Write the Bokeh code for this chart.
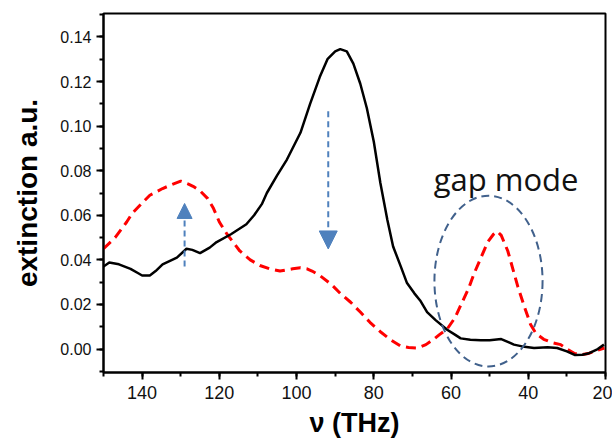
from bokeh.plotting import figure
from bokeh.models import Range1d, SingleIntervalTicker, NumeralTickFormatter, Arrow, NormalHead, Label
from bokeh.embed import file_html
from bokeh.resources import INLINE

# black solid curve
black_x = [150, 148.5, 146, 143, 141, 140, 138, 136.5, 134.7, 131, 128.5, 127, 125, 122.5, 120.7,
           117, 113, 111, 109, 107.7, 105, 102.5, 99, 96.5, 94, 92, 90, 88.7, 87, 85.3, 83.5, 81.8,
           80, 78.3, 76.5, 75, 73, 71.4, 69.5, 68, 66.2, 64, 61, 59, 57.5, 55, 52.3, 50, 47,
           45, 43.7, 41, 38.5, 35, 32.5, 30, 28, 26, 24.5, 22, 20.4]
black_y = [0.037, 0.0388, 0.038, 0.036, 0.034, 0.033, 0.033, 0.035, 0.038, 0.041, 0.045, 0.0445,
           0.043, 0.0455, 0.048, 0.0515, 0.056, 0.060, 0.065, 0.070, 0.078, 0.085, 0.097, 0.110, 0.122,
           0.130, 0.1335, 0.1345, 0.1335, 0.128, 0.119, 0.108, 0.093, 0.0745, 0.058, 0.046,
           0.037, 0.0296, 0.025, 0.0218, 0.0166, 0.013, 0.0087, 0.0065, 0.0048, 0.0042, 0.004,
           0.004, 0.0045, 0.003, 0.002, 0.001, 0.0005, 0.0008, 0.0005, -0.001, -0.0026, -0.0025,
           -0.002, 0.0, 0.002]

# red dashed curve
red_x = [150, 147, 144, 142.5, 140, 138, 134.7, 132, 130, 128, 126.8, 125, 123, 121.5, 120, 118,
         116, 114.7, 112, 109.5, 107, 104.3, 101, 99, 97.3, 96, 94, 91, 88.7, 86, 83.5, 81, 78.3,
         75.5, 73, 71, 68.7, 66.5, 64.5, 63, 61, 59, 57.5, 55.5, 54, 52, 50.5, 49, 48, 47, 45.3,
         44, 42.7, 41, 39.4, 38, 36, 34, 31.6, 30, 28, 26, 24.5, 22, 20.3]
red_y = [0.045, 0.050, 0.057, 0.061, 0.0655, 0.069, 0.072, 0.074, 0.0753, 0.074, 0.073, 0.071,
         0.0675, 0.063, 0.057, 0.0515, 0.047, 0.044, 0.040, 0.0375, 0.036, 0.035, 0.036, 0.0365,
         0.036, 0.035, 0.033, 0.029, 0.025, 0.021, 0.0166, 0.012, 0.0078, 0.004, 0.0013, 0.0007,
         0.0005, 0.002, 0.0044, 0.0065, 0.009, 0.014, 0.0196, 0.027, 0.034, 0.042, 0.048, 0.0515,
         0.0528, 0.051, 0.044, 0.036, 0.028, 0.019, 0.011, 0.007, 0.0044, 0.003, 0.002, 0.0,
         -0.002, -0.0025, -0.002, -0.0005, 0.0005]

# annotations
up_arrow = (129, 0.037, 0.0653)      # x, y_start, y_end
down_arrow = (91.8, 0.1067, 0.0449)
ellipse_center = (50.3, 0.0305)
ellipse_size = (28, 0.0766)
note_text = "gap mode"
note_pos = (64.5, 0.0765)

FONT = "Arial"

p = figure(width=612, height=440, output_backend="svg", toolbar_location=None,
           x_range=Range1d(150, 20), y_range=Range1d(-0.0105, 0.1505),
           min_border_left=103, min_border_right=7, min_border_top=13, min_border_bottom=58)

p.xgrid.visible = False
p.ygrid.visible = False
p.outline_line_color = "black"
p.outline_line_width = 2
p.background_fill_color = "white"
p.border_fill_color = "white"

p.line(red_x, red_y, line_color="#FF0000", line_width=3, line_dash="10 6")
p.line(black_x, black_y, line_color="black", line_width=2.5)

p.ellipse(x=[ellipse_center[0]], y=[ellipse_center[1]], width=[ellipse_size[0]],
          height=[ellipse_size[1]], fill_alpha=0, line_color="#41618C", line_width=2,
          line_dash="8 5")

blue = "#4F81BD"
p.add_layout(Arrow(end=NormalHead(size=15, fill_color=blue, line_color=blue, line_width=1),
                   x_start=up_arrow[0], y_start=up_arrow[1], x_end=up_arrow[0], y_end=up_arrow[2],
                   line_color=blue, line_width=2, line_dash="6 4"))
p.add_layout(Arrow(end=NormalHead(size=18, fill_color=blue, line_color=blue, line_width=1),
                   x_start=down_arrow[0], y_start=down_arrow[1], x_end=down_arrow[0], y_end=down_arrow[2],
                   line_color=blue, line_width=2, line_dash="6 4"))

p.add_layout(Label(x=note_pos[0], y=note_pos[1], text=note_text, text_font="Open Sans",
                   text_font_size="31px", text_color="#111111", text_baseline="alphabetic"))

for ax in (p.xaxis[0], p.yaxis[0]):
    ax.axis_line_width = 2
    ax.axis_line_color = "black"
    ax.major_tick_line_width = 2
    ax.minor_tick_line_width = 2
    ax.major_tick_out = 7
    ax.major_tick_in = 0
    ax.minor_tick_out = 4
    ax.minor_tick_in = 0
    ax.major_label_text_font = FONT
    ax.major_label_text_color = "#111111"
    ax.axis_label_text_font = FONT
    ax.axis_label_text_font_style = "bold"
    ax.axis_label_text_color = "black"

p.xaxis.ticker = SingleIntervalTicker(interval=20, num_minor_ticks=2)
p.yaxis.ticker = SingleIntervalTicker(interval=0.02, num_minor_ticks=2)
p.yaxis.formatter = NumeralTickFormatter(format="0.00")
p.xaxis.major_label_text_font_size = "18px"
p.yaxis.major_label_text_font_size = "16px"
p.xaxis.major_label_standoff = 6
p.yaxis.major_label_standoff = 5
p.xaxis.axis_label = "ν (THz)"
p.yaxis.axis_label = "extinction a.u."
p.xaxis.axis_label_text_font_size = "27px"
p.yaxis.axis_label_text_font_size = "28px"
p.xaxis.axis_label_standoff = 6
p.yaxis.axis_label_standoff = 14

open("out.html", "w").write(file_html(p, INLINE))
